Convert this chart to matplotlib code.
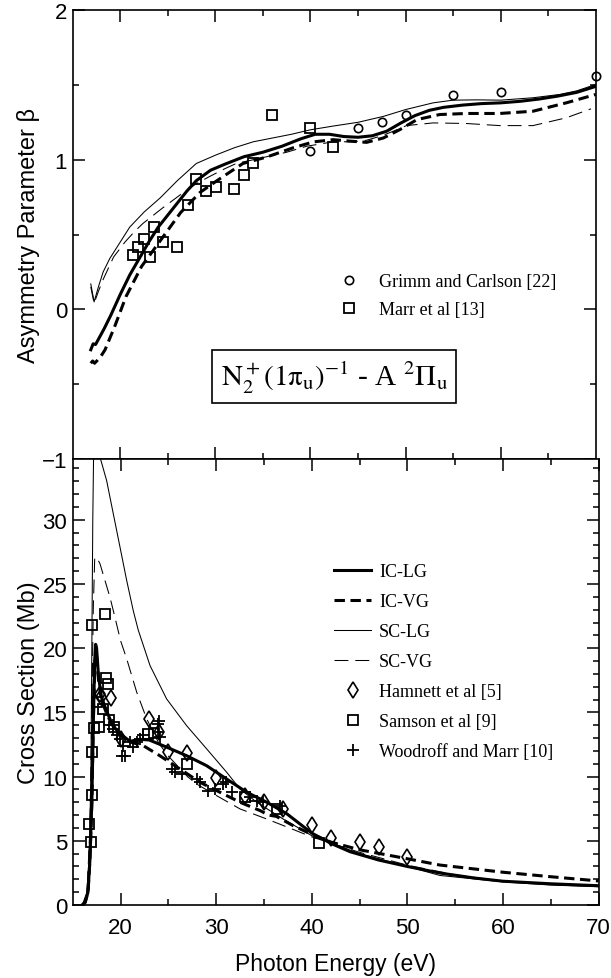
import numpy as np
import matplotlib
matplotlib.use("Agg")
import matplotlib.pyplot as plt

plt.rcParams['font.family'] = ['Liberation Sans', 'DejaVu Sans']
plt.rcParams['mathtext.fontset'] = 'stix'
plt.rcParams['lines.scale_dashes'] = False

# ---------------- top panel: asymmetry parameter beta ----------------
sclg_b_E = [16.9, 17.25, 17.7, 18.2, 18.9, 20.0, 21.0, 22.5, 24.2, 26.0, 28.0, 30.0, 32.0, 34.0, 36.0,
            38.0, 40.0, 42.4, 45.0, 47.7, 50.0, 52.9, 55.0, 57.5, 60.0, 63.4, 66.2, 68.0, 70.0]
sclg_b = [0.17, 0.05, 0.15, 0.25, 0.34, 0.45, 0.55, 0.65, 0.745, 0.86, 0.975, 1.03, 1.08, 1.12, 1.145,
          1.17, 1.20, 1.225, 1.25, 1.29, 1.335, 1.38, 1.398, 1.40, 1.398, 1.414, 1.436, 1.46, 1.503]

scvg_b_E = [16.9, 17.25, 17.7, 18.2, 19.3, 20.5, 21.5, 22.4, 24.5, 26.3, 28.0, 29.4, 31.0, 32.2, 34.0,
            35.4, 37.5, 39.6, 42.4, 44.5, 45.9, 47.5, 48.7, 50.1, 52.9, 56.4, 59.9, 63.4, 66.9, 69.5]
scvg_b = [0.15, 0.04, 0.12, 0.2, 0.35, 0.45, 0.52, 0.575, 0.68, 0.765, 0.84, 0.888, 0.94, 0.975, 1.0,
          1.02, 1.05, 1.09, 1.12, 1.12, 1.13, 1.16, 1.19, 1.228, 1.246, 1.242, 1.228, 1.228, 1.28, 1.34]

iclg_b_E = [16.9, 17.15, 17.4, 17.7, 18.3, 19.0, 20.0, 21.0, 22.0, 23.0, 24.0, 25.0, 26.0, 27.0, 28.0,
            29.5, 31.0, 33.0, 35.0, 37.0, 39.0, 40.5, 42.0, 43.5, 45.0, 46.5, 48.0, 49.5, 51.0, 52.5,
            54.0, 56.0, 58.0, 60.0, 62.0, 64.0, 66.0, 68.0, 70.0]
iclg_b = [-0.27, -0.23, -0.235, -0.2, -0.13, -0.04, 0.10, 0.23, 0.34, 0.45, 0.55, 0.63, 0.71, 0.79, 0.86,
          0.93, 0.97, 1.02, 1.05, 1.09, 1.14, 1.17, 1.17, 1.155, 1.15, 1.16, 1.19, 1.245, 1.295, 1.33,
          1.35, 1.365, 1.375, 1.38, 1.39, 1.405, 1.425, 1.45, 1.49]

icvg_b_E = [16.9, 17.1, 17.3, 17.6, 18.0, 18.4, 19.4, 20.6, 22.25, 24.3, 26.35, 28.4, 30.45, 32.9, 35.4,
            38.2, 40.3, 42.4, 44.0, 45.9, 47.66, 49.4, 51.2, 53.6, 56.4, 59.9, 63.4, 66.9, 70.0]
icvg_b = [-0.36, -0.345, -0.36, -0.34, -0.31, -0.27, -0.117, 0.085, 0.288, 0.467, 0.647, 0.782, 0.872, 0.975, 1.018,
          1.08, 1.119, 1.134, 1.125, 1.116, 1.145, 1.201, 1.268, 1.302, 1.309, 1.309, 1.324, 1.38, 1.436]

grimm_E = [40.0, 45.0, 47.5, 50.0, 55.0, 60.0, 70.0]
grimm_b = [1.06, 1.21, 1.25, 1.297, 1.43, 1.45, 1.56]

marr_E = [21.3, 21.9, 22.5, 23.1, 23.6, 24.5, 26.0, 27.1, 28.0, 29.0, 30.1, 32.0, 33.0, 34.0, 36.0, 40.0, 42.4]
marr_b = [0.36, 0.42, 0.47, 0.35, 0.55, 0.45, 0.415, 0.695, 0.873, 0.788, 0.815, 0.806, 0.90, 0.98, 1.30, 1.21, 1.085]

# ---------------- bottom panel: cross section (Mb) ----------------
iclg_s_E = [16.0, 16.3, 16.6, 16.8, 17.0, 17.15, 17.3, 17.4, 17.5, 17.7, 18.0, 18.5, 19.0, 19.5, 20.0,
            21.0, 22.0, 23.0, 24.8, 26.9, 29.0, 31.1, 33.2, 35.3, 37.4, 40.0, 42.0, 44.0, 47.0, 50.0,
            53.4, 57.0, 60.0, 65.0, 70.0]
iclg_s = [0.0, 0.2, 1.0, 3.5, 8.0, 14.0, 19.0, 20.3, 20.0, 17.8, 16.2, 15.2, 14.3, 13.7, 13.3,
          12.75, 12.9, 12.85, 12.3, 11.63, 10.85, 9.81, 8.78, 8.0, 7.1, 5.6, 4.8, 4.15, 3.5, 3.0,
          2.49, 2.1, 1.85, 1.65, 1.5]

icvg_s_E = [16.0, 16.3, 16.6, 16.8, 17.0, 17.15, 17.3, 17.4, 17.5, 17.7, 18.0, 18.5, 19.0, 19.5, 20.0,
            21.0, 22.4, 24.1, 26.2, 28.3, 30.4, 32.5, 34.6, 35.5, 36.3, 38.0, 40.0, 42.0, 45.0, 50.0,
            53.4, 60.0, 65.0, 70.0]
icvg_s = [0.0, 0.2, 1.0, 3.5, 8.0, 14.0, 18.5, 19.6, 19.3, 17.5, 16.0, 15.0, 14.2, 13.6, 13.2,
          12.7, 12.4, 11.63, 10.6, 9.56, 8.78, 8.0, 7.35, 7.0, 6.9, 6.2, 5.5, 4.9, 4.3, 3.6,
          3.11, 2.55, 2.2, 1.87]

sclg_s_E = [16.0, 16.4, 16.7, 16.9, 17.0, 17.1, 17.2, 17.45, 17.8, 18.0, 18.55, 19.25, 19.95, 20.65,
            21.34, 21.86, 23.09, 24.83, 26.92, 29.02, 31.11, 32.5, 34.25, 37.0, 40.0, 45.0, 50.0, 53.4,
            60.0, 65.0, 70.0]
sclg_s = [0.0, 0.5, 3.0, 10.0, 20.0, 30.0, 36.0, 38.0, 35.0, 34.5, 33.05, 30.45, 27.86, 25.26,
          22.9, 21.4, 18.64, 16.04, 13.96, 12.15, 10.33, 9.03, 8.0, 6.7, 5.4, 4.0, 3.0, 2.3,
          1.8, 1.55, 1.42]

scvg_s_E = [16.0, 16.5, 16.8, 17.0, 17.15, 17.3, 17.5, 17.86, 18.38, 18.9, 19.42, 20.0, 20.65, 21.7,
            22.74, 24.0, 25.0, 26.0, 27.0, 28.0, 30.06, 32.5, 35.28, 38.0, 40.0, 45.0, 50.0, 55.0,
            60.0, 65.0, 70.0]
scvg_s = [0.0, 1.0, 6.0, 15.0, 23.0, 27.0, 27.1, 26.56, 25.26, 23.96, 22.4, 20.6, 19.16, 16.56,
          14.49, 12.6, 11.6, 10.8, 10.0, 9.4, 8.51, 7.48, 6.7, 5.9, 5.3, 4.1, 3.1, 2.35,
          1.85, 1.6, 1.45]

hamnett_E = [17.9, 18.0, 19.0, 20.0, 23.0, 24.0, 25.0, 27.0, 30.0, 33.0, 35.0, 37.0, 40.0, 42.0, 45.0, 47.0, 50.0]
hamnett_s = [16.4, 16.2, 16.1, 12.9, 14.5, 13.5, 11.9, 11.8, 9.9, 8.5, 8.0, 7.5, 6.2, 5.2, 4.9, 4.55, 3.7]

samson_E = [16.7, 16.87, 17.05, 17.05, 17.05, 17.26, 17.5, 17.79, 18.2, 18.38, 18.45, 18.73, 18.77,
            19.3, 22.9, 23.5, 27.0, 33.0, 36.4, 40.8]
samson_s = [6.3, 4.93, 8.57, 11.9, 21.8, 13.76, 15.8, 13.84, 15.3, 22.7, 17.7, 17.2, 14.4,
            13.9, 13.3, 13.4, 11.0, 8.4, 7.5, 4.8]

wood_E = [19.2, 19.25, 19.6, 19.95, 20.3, 20.47, 20.12, 21.0, 21.34, 21.7, 22.04, 22.39, 23.96, 23.96,
          24.13, 24.0, 25.35, 25.7, 26.4, 27.97, 28.3, 29.2, 29.9, 30.75, 31.0, 31.63, 33.5, 34.25,
          34.94, 36.7]
wood_s = [14.0, 13.7, 13.2, 12.93, 12.4, 11.63, 11.58, 12.67, 12.28, 12.67, 12.93, 13.2, 14.1, 13.45,
          13.06, 14.3, 10.6, 10.33, 10.2, 9.81, 9.56, 8.9, 9.03, 9.42, 9.6, 8.78, 8.4, 8.12,
          8.0, 7.73]

fig = plt.figure(figsize=(6.11, 9.79), dpi=100)
ax1 = fig.add_axes([0.119, 0.5301, 0.856, 0.4586])
ax2 = fig.add_axes([0.119, 0.0746, 0.8606, 0.4556])

thick = 2.2
thin = 0.75
dash_thick = (7.5, 4.0)
dash_thin = (10.0, 5.0)

# top panel
ax1.plot(iclg_b_E, iclg_b, color='black', lw=thick)
ax1.plot(icvg_b_E, icvg_b, color='black', lw=thick, dashes=dash_thick)
ax1.plot(sclg_b_E, sclg_b, color='black', lw=thin)
ax1.plot(scvg_b_E, scvg_b, color='black', lw=thin, dashes=dash_thin)
ax1.plot(grimm_E, grimm_b, 'o', ms=6, mfc='none', mec='black', mew=1.2, clip_on=False,
         label='Grimm and Carlson [22]')
ax1.plot(marr_E, marr_b, 's', ms=6.5, mfc='none', mec='black', mew=1.3,
         label='Marr et al [13]')

ax1.set_xlim(15, 70)
ax1.set_ylim(-1, 2)
ax1.set_yticks([-1, 0, 1, 2])
ax1.set_yticks([-0.5, 0.5, 1.5], minor=True)
ax1.set_xticks([20, 30, 40, 50, 60])
ax1.set_xticks([25, 35, 45, 55, 65], minor=True)
ax1.tick_params(labelbottom=False)
ax1.set_ylabel('Asymmetry Parameter β', fontsize=17)
ax1.yaxis.set_label_coords(-0.062, 0.5)

leg1 = ax1.legend(loc='upper left', bbox_to_anchor=(0.503, 0.414), frameon=False,
                  prop={'family': 'Liberation Serif', 'size': 13}, handlelength=1.5,
                  handletextpad=0.9, labelspacing=0.62, borderpad=0, borderaxespad=0)

ax1.text(0.5, 0.184, r'$\mathrm{N_2^+(1\pi_u)^{-1}}$ - A $\mathrm{^{2}\Pi_u}$', transform=ax1.transAxes,
         ha='center', va='center', fontsize=21, family='Liberation Serif',
         bbox=dict(boxstyle='square,pad=0.3', fc='white', ec='black', lw=1.2))

# bottom panel
ax2.plot(iclg_s_E, iclg_s, color='black', lw=thick, label='IC-LG')
ax2.plot(icvg_s_E, icvg_s, color='black', lw=thick, dashes=dash_thick, label='IC-VG')
ax2.plot(sclg_s_E, sclg_s, color='black', lw=thin, label='SC-LG')
ax2.plot(scvg_s_E, scvg_s, color='black', lw=thin, dashes=dash_thin, label='SC-VG')
ax2.plot(hamnett_E, hamnett_s, 'd', ms=8, mfc='none', mec='black', mew=1.2,
         label='Hamnett et al [5]')
ax2.plot(samson_E, samson_s, 's', ms=6.5, mfc='none', mec='black', mew=1.3,
         label='Samson et al [9]')
ax2.plot(wood_E, wood_s, '+', ms=8, mec='black', mew=1.3,
         label='Woodroff and Marr [10]')

ax2.set_xlim(15, 70)
ax2.set_ylim(0, 34.74)
ax2.set_xticks([20, 30, 40, 50, 60, 70])
ax2.set_xticks([25, 35, 45, 55, 65], minor=True)
ax2.set_yticks([0, 5, 10, 15, 20, 25, 30])
ax2.set_yticks([v for v in range(1, 35) if v % 5 != 0], minor=True)
ax2.set_xlabel('Photon Energy (eV)', fontsize=16.5, labelpad=10)
ax2.set_ylabel('Cross Section (Mb)', fontsize=17)
ax2.yaxis.set_label_coords(-0.062, 0.5)

leg2 = ax2.legend(loc='upper left', bbox_to_anchor=(0.497, 0.766), frameon=False,
                  prop={'family': 'Liberation Serif', 'size': 13}, handlelength=2.05,
                  handletextpad=0.45, labelspacing=0.72, borderpad=0, borderaxespad=0)

for ax in (ax1, ax2):
    for s in ax.spines.values():
        s.set_linewidth(1.2)
    ax.tick_params(which='both', direction='in', top=True, right=True, width=1.1,
                   labelsize=16, pad=4)
    ax.tick_params(which='major', length=8.5)
    ax.tick_params(which='minor', length=4.5)
ax2.tick_params(axis='x', pad=9)

fig.savefig('out.png', dpi=100)
